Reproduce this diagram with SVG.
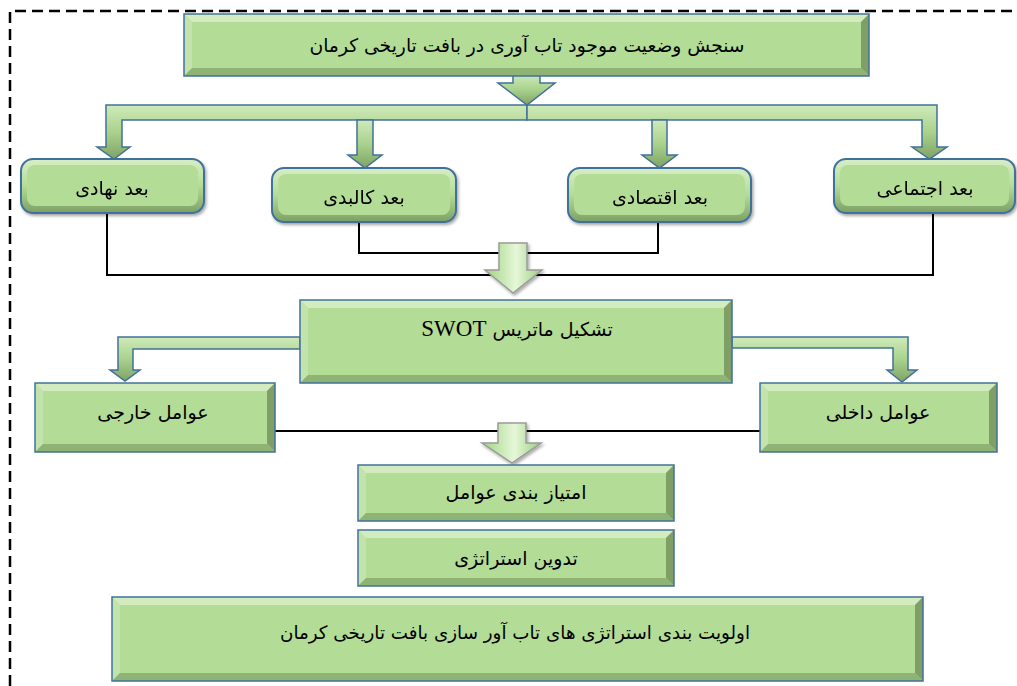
<svg xmlns="http://www.w3.org/2000/svg" width="1017" height="686" viewBox="0 0 1017 686">
<defs>
<style>
.face{fill:#b3dc96}
.bt{fill:#d3ecbf}
.bl{fill:#c3e3ac}
.br{fill:#7f9f66}
.bb{fill:#8fb275}
.edge{fill:none;stroke:#41719c;stroke-width:1.5}
.rnd{fill:url(#rndGrad);stroke:#41719c;stroke-width:2}
.rin{fill:#b3dc96}
.barr{fill:url(#arrGrad);stroke:#41719c;stroke-width:1.5;stroke-linejoin:miter}
.garr{fill:url(#gArrGrad);stroke:#9a9a9a;stroke-width:1.5}
.line{fill:none;stroke:#000;stroke-width:2}
.lbl{font-family:"DejaVu Sans","Noto Sans",sans-serif;font-size:19px;fill:#000;text-anchor:middle}
</style>
<linearGradient id="rndGrad" x1="0" y1="0" x2="0" y2="1">
<stop offset="0" stop-color="#d8eec6"/>
<stop offset="0.5" stop-color="#b3dc96"/>
<stop offset="1" stop-color="#7d9f65"/>
</linearGradient>
<linearGradient id="arrGrad" x1="0" y1="0" x2="0" y2="1">
<stop offset="0" stop-color="#cfeab9"/>
<stop offset="0.5" stop-color="#a9d28c"/>
<stop offset="1" stop-color="#7fa266"/>
</linearGradient>
<linearGradient id="gArrGrad" x1="0" y1="0" x2="1" y2="0">
<stop offset="0" stop-color="#9fd480"/>
<stop offset="0.55" stop-color="#e6f7d9"/>
<stop offset="1" stop-color="#9ccc80"/>
</linearGradient>
<filter id="sh" x="-10%" y="-10%" width="120%" height="130%">
<feDropShadow dx="1.5" dy="2" stdDeviation="1.5" flood-color="#000" flood-opacity="0.35"/>
</filter>
</defs>
<rect width="1017" height="686" fill="#fff"/>
<path d="M10,686 V11 H1017" fill="none" stroke="#000" stroke-width="2.5" stroke-dasharray="11 6"/>

<g id="connectors">
<path class="line" d="M107,213 V275 H933 V213"/>
<path class="line" d="M359,222 V253 H658 V222"/>
<path class="line" d="M275,431 H760"/>
<path class="barr" d="M527,105 H106 V147 H97 L114,159 L130,147 H122 V120 H527 Z"/>
<path class="barr" d="M527,105 H937 V147 H947 L929.5,159 L912,147 H922 V120 H527 Z"/>
<path class="barr" d="M513,74 H540 V83 H555 L527,105 L498,83 H513 Z"/>
<path class="barr" d="M357,120 H373 V155 H382 L365,168 L348,155 H357 Z"/>
<path class="barr" d="M652,120 H667 V155 H677 L659.5,168 L642,155 H652 Z"/>
<path class="barr" d="M300,337 H118 V370 H110 L125,381 L140,370 H133 V349 H300 Z"/>
<path class="barr" d="M732,337 H908 V370 H917 L902,382 L887,370 H893 V348 H732 Z"/>
<path class="garr" filter="url(#sh)" d="M499,243 H527 V270 H542 L513,293 L485,270 H499 Z"/>
<path class="garr" filter="url(#sh)" d="M498,423 H526 V443 H541 L512,463 L482,443 H498 Z"/>
</g>

<g id="n-top">
<rect class="face" x="184" y="14" width="685" height="62"/>
<polygon class="bt" points="184,14 869,14 861,22 192,22"/>
<polygon class="bl" points="184,14 192,22 192,68 184,76"/>
<polygon class="br" points="869,14 869,76 861,68 861,22"/>
<polygon class="bb" points="184,76 192,68 861,68 869,76"/>
<rect class="edge" x="184" y="14" width="685" height="62"/>
<text class="lbl" x="527" y="52" direction="rtl" style="font-size:18.7px">سنجش وضعیت موجود تاب آوری در بافت تاریخی کرمان</text>
</g>

<g id="n-nahadi" filter="url(#sh)">
<rect class="rnd" x="21" y="159" width="183" height="54" rx="12"/>
<rect class="rin" x="27" y="165" width="171" height="41" rx="8"/>
<text class="lbl" x="112" y="195" direction="rtl">بعد نهادی</text>
</g>
<g id="n-kalbadi" filter="url(#sh)">
<rect class="rnd" x="272" y="168" width="184" height="54" rx="12"/>
<rect class="rin" x="278" y="174" width="172" height="41" rx="8"/>
<text class="lbl" x="364" y="204" direction="rtl">بعد کالبدی</text>
</g>
<g id="n-eghtesadi" filter="url(#sh)">
<rect class="rnd" x="568" y="168" width="183" height="54" rx="12"/>
<rect class="rin" x="574" y="174" width="171" height="41" rx="8"/>
<text class="lbl" x="660" y="204" direction="rtl">بعد اقتصادی</text>
</g>
<g id="n-ejtemai" filter="url(#sh)">
<rect class="rnd" x="834" y="159" width="181" height="54" rx="12"/>
<rect class="rin" x="840" y="165" width="169" height="41" rx="8"/>
<text class="lbl" x="925" y="195" direction="rtl">بعد اجتماعی</text>
</g>

<g id="n-swot">
<rect class="face" x="300" y="300" width="432" height="83"/>
<polygon class="bt" points="300,300 732,300 724,308 308,308"/>
<polygon class="bl" points="300,300 308,308 308,375 300,383"/>
<polygon class="br" points="732,300 732,383 724,375 724,308"/>
<polygon class="bb" points="300,383 308,375 724,375 732,383"/>
<rect class="edge" x="300" y="300" width="432" height="83"/>
<text class="lbl" x="517" y="336" direction="rtl">تشکیل ماتریس <tspan style="font-family:'Liberation Serif',serif;font-size:23px">SWOT</tspan></text>
</g>

<g id="n-khareji">
<rect class="face" x="35" y="383" width="240" height="69"/>
<polygon class="bt" points="35,383 275,383 267,391 43,391"/>
<polygon class="bl" points="35,383 43,391 43,444 35,452"/>
<polygon class="br" points="275,383 275,452 267,444 267,391"/>
<polygon class="bb" points="35,452 43,444 267,444 275,452"/>
<rect class="edge" x="35" y="383" width="240" height="69"/>
<text class="lbl" x="153" y="419" direction="rtl">عوامل خارجی</text>
</g>

<g id="n-dakheli">
<rect class="face" x="760" y="383" width="237" height="69"/>
<polygon class="bt" points="760,383 997,383 989,391 768,391"/>
<polygon class="bl" points="760,383 768,391 768,444 760,452"/>
<polygon class="br" points="997,383 997,452 989,444 989,391"/>
<polygon class="bb" points="760,452 768,444 989,444 997,452"/>
<rect class="edge" x="760" y="383" width="237" height="69"/>
<text class="lbl" x="878" y="419" direction="rtl">عوامل داخلی</text>
</g>

<g id="n-emtiaz">
<rect class="face" x="358" y="465" width="316" height="56"/>
<polygon class="bt" points="358,465 674,465 666,473 366,473"/>
<polygon class="bl" points="358,465 366,473 366,513 358,521"/>
<polygon class="br" points="674,465 674,521 666,513 666,473"/>
<polygon class="bb" points="358,521 366,513 666,513 674,521"/>
<rect class="edge" x="358" y="465" width="316" height="56"/>
<text class="lbl" x="516" y="499" direction="rtl">امتیاز بندی عوامل</text>
</g>

<g id="n-tadvin">
<rect class="face" x="358" y="530" width="316" height="56"/>
<polygon class="bt" points="358,530 674,530 666,538 366,538"/>
<polygon class="bl" points="358,530 366,538 366,578 358,586"/>
<polygon class="br" points="674,530 674,586 666,578 666,538"/>
<polygon class="bb" points="358,586 366,578 666,578 674,586"/>
<rect class="edge" x="358" y="530" width="316" height="56"/>
<text class="lbl" x="516" y="565" direction="rtl">تدوین استراتژی</text>
</g>

<g id="n-olaviat">
<rect class="face" x="112" y="597" width="811" height="84"/>
<polygon class="bt" points="112,597 923,597 915,605 120,605"/>
<polygon class="bl" points="112,597 120,605 120,673 112,681"/>
<polygon class="br" points="923,597 923,681 915,673 915,605"/>
<polygon class="bb" points="112,681 120,673 915,673 923,681"/>
<rect class="edge" x="112" y="597" width="811" height="84"/>
<text class="lbl" x="515" y="639" direction="rtl" style="font-size:18.3px">اولویت بندی استراتژی های تاب آور سازی بافت تاریخی کرمان</text>
</g>
</svg>
